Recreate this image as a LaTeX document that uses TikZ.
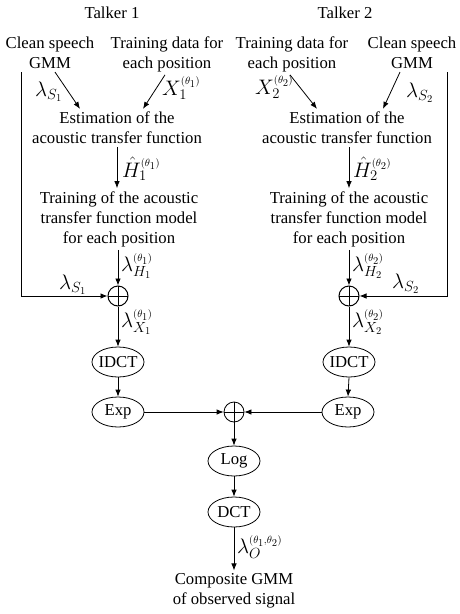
\RequirePackage{fix-cm}
\documentclass[tikz,border=0pt]{standalone}
\usepackage{fontspec}
\setmainfont{Liberation Serif}
\usetikzlibrary{shapes.geometric,arrows.meta}
\newcommand{\sps}[1]{{\scriptscriptstyle(#1)}}
\begin{document}
\begin{tikzpicture}[x=1pt,y=-1pt,
  every node/.style={font=\fontsize{16.7}{20}\selectfont},
  txt/.style={align=center,inner sep=3pt},
  el/.style={ellipse,draw,line width=0.8pt,minimum width=52pt,minimum height=30pt,inner sep=0pt},
  sumc/.style={circle,draw,line width=1pt,minimum size=20pt,inner sep=0pt,
    path picture={\draw[line width=1pt] (path picture bounding box.north) -- (path picture bounding box.south)
      (path picture bounding box.west) -- (path picture bounding box.east);}},
  arr/.style={line width=0.8pt,-{Latex[length=7pt,width=5.5pt]}},
  lbl/.style={inner sep=0pt,anchor=west,font=\fontsize{21}{24}\selectfont}]
\useasboundingbox (0,0) rectangle (460,614);

% titles
\node (t1) at (112,13) {Talker 1};
\node (t2) at (345,13) {Talker 2};

% talker 1
\node[txt] (gmm1) at (50,53) {Clean speech\\GMM};
\node[txt] (tr1) at (167,54) {Training data for\\each position};
\node[txt] (est1) at (117,128) {Estimation of the\\acoustic transfer function};
\node[txt] (trn1) at (119,219) {Training of the acoustic\\transfer function model\\for each position};
\node[sumc] (p1) at (118,296) {};
\node[el] (idct1) at (118,362) {\makebox[28pt]{IDCT}};
\node[el] (exp1) at (118,412) {\makebox[28pt]{Exp}};

% talker 2
\node[txt] (tr2) at (292,54) {Training data for\\each position};
\node[txt] (gmm2) at (412,53) {Clean speech\\GMM};
\node[txt] (est2) at (347,128) {Estimation of the\\acoustic transfer function};
\node[txt] (trn2) at (349,219) {Training of the acoustic\\transfer function model\\for each position};
\node[sumc] (p2) at (349,296) {};
\node[el] (idct2) at (349,362) {\makebox[28pt]{IDCT}};
\node[el] (exp2) at (348,412) {\makebox[28pt]{Exp}};

% common
\node[sumc,line width=0.8pt] (pc) at (234,412) {};
\node[el] (log) at (234,461) {\makebox[28pt]{Log}};
\node[el] (dct) at (234,512) {\makebox[28pt]{DCT}};
\node[txt] (comp) at (234,591) {Composite GMM\\of observed signal};

% connectors talker 1
\draw[arr] ([xshift=5pt]gmm1.south) -- ([xshift=-37pt]est1.north);
\draw[arr] ([xshift=-2pt]tr1.south) -- ([xshift=26pt]est1.north);
\draw[arr] (est1.south) -- (est1.south |- trn1.north);
\draw[arr] (p1 |- trn1.south) -- (p1.north);
\draw[arr] ([xshift=19pt]gmm1.south west) |- (p1.west);
\draw[arr] (p1.south) -- (idct1.north);
\draw[arr] (idct1.south) -- (exp1.north);
\draw[arr] (exp1.east) -- (pc.west);

% connectors talker 2
\draw[arr] ([xshift=-2pt]tr2.south) -- ([xshift=-30pt]est2.north);
\draw[arr] ([xshift=-12pt]gmm2.south) -- ([xshift=36pt]est2.north);
\draw[arr] (est2.south -| p2) -- (p2 |- trn2.north);
\draw[arr] (p2 |- trn2.south) -- (p2.north);
\draw[arr] ([xshift=-12pt]gmm2.south east) |- (p2.east);
\draw[arr] (p2.south) -- (idct2.north);
\draw[arr] (idct2.south) -- (exp2.north);
\draw[arr] (exp2.west) -- (pc.east);

% common connectors
\draw[arr] (pc.south) -- (log.north);
\draw[arr] (log.south) -- (dct.north);
\draw[arr] (dct.south) -- (comp.north);

% labels talker 1
\node[lbl] (l1) at (35,92) {$\lambda_{S_1}$};
\node[lbl] (l2) at (162,88) {$X_1^{\sps{\theta_1}}$};
\node[lbl] (l3) at (122,169) {$\hat{H}_1^{\sps{\theta_1}}$};
\node[lbl] (l4) at (121,266) {$\lambda_{H_1}^{\sps{\theta_1}}$};
\node[lbl] (l5) at (59,285) {$\lambda_{S_1}$};
\node[lbl] (l6) at (121,322) {$\lambda_{X_1}^{\sps{\theta_1}}$};

% labels talker 2
\node[lbl] (r1) at (255,87) {$X_2^{\sps{\theta_2}}$};
\node[lbl] (r2) at (406,93) {$\lambda_{S_2}$};
\node[lbl] (r3) at (353,169) {$\hat{H}_2^{\sps{\theta_2}}$};
\node[lbl] (r4) at (352,266) {$\lambda_{H_2}^{\sps{\theta_2}}$};
\node[lbl] (r5) at (392,284) {$\lambda_{S_2}$};
\node[lbl] (r6) at (352,322) {$\lambda_{X_2}^{\sps{\theta_2}}$};

\node[lbl] (lo) at (237,547) {$\lambda_{O}^{\sps{\theta_1,\theta_2}}$};
\end{tikzpicture}
\end{document}
